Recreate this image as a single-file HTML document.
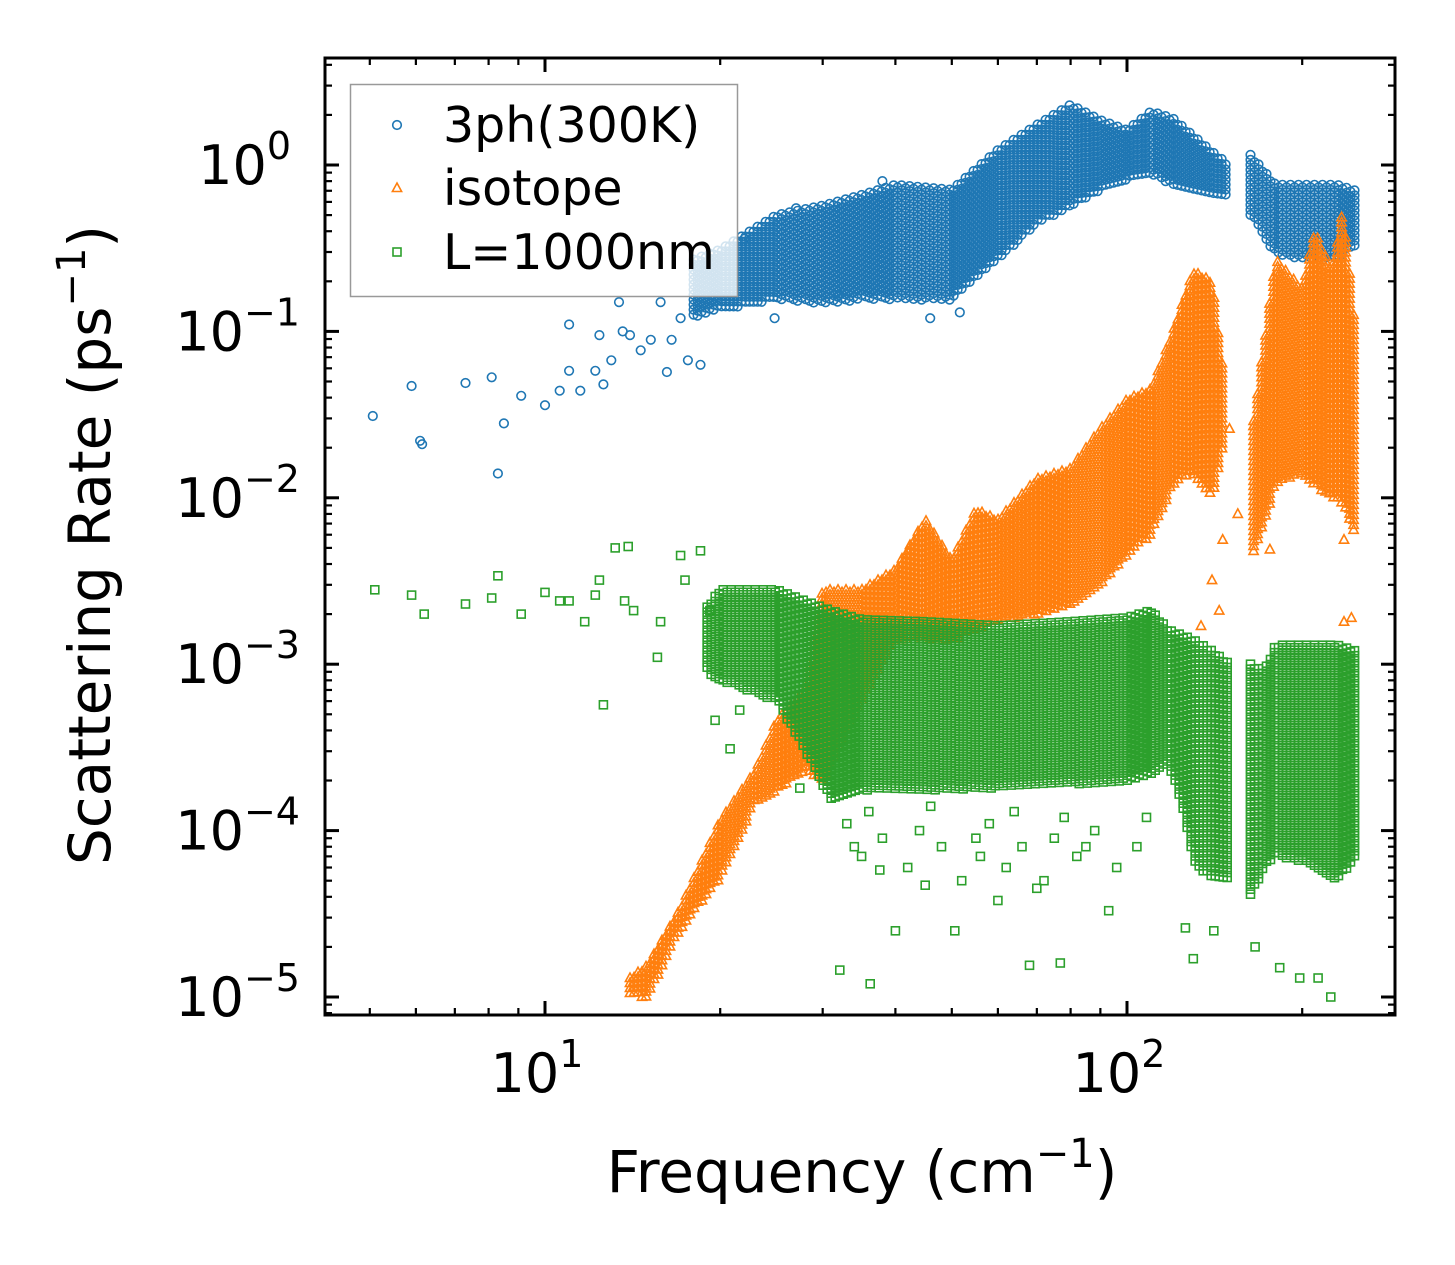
<!DOCTYPE html>
<html><head><meta charset="utf-8"><style>
html,body{margin:0;padding:0;background:#fff;}
svg{display:block;font-family:"DejaVu Sans","Liberation Sans",sans-serif;}
</style></head><body>
<svg id="chart" width="1455" height="1265" viewBox="0 0 1455 1265">
<rect x="0" y="0" width="1455" height="1265" fill="#fff"/>
<g id="marks"></g>
<g id="axes"></g>
</svg>
<script>
// ---- data (frequency in cm^-1, rate in ps^-1) ----
const blueBandF  = [18,20,25,30,35,40,50,60,70,80,90,100,110,120,140,150];
const blueBandLo = [0.12,0.135,0.155,0.145,0.155,0.155,0.155,0.27,0.44,0.57,0.71,0.81,0.87,0.76,0.66,0.62];
const blueBandHi = [0.27,0.31,0.5,0.57,0.66,0.76,0.71,1.23,1.74,2.3,1.86,1.62,2.1,1.9,1.2,1.0];
const blueBand2F  = [163,180,200,230,247];
const blueBand2Lo = [0.5,0.29,0.27,0.27,0.33];
const blueBand2Hi = [1.15,0.76,0.76,0.76,0.7];
const blueF = [5.06,5.9,6.1,6.15,7.3,8.1,8.3,8.5,9.1,10,10.6,11,11.5,12.2,12.6,13,13.6,11,12.4,14,14.6,15.2,16.2,16.5,17.6,18.5,13.4,15.8,17.1,24.8,45.9,51.6,32,22,27,38];
const blueV = [0.031,0.047,0.022,0.021,0.049,0.053,0.014,0.028,0.041,0.036,0.044,0.058,0.044,0.058,0.048,0.067,0.10,0.11,0.095,0.095,0.077,0.089,0.057,0.089,0.067,0.063,0.15,0.15,0.12,0.12,0.12,0.13,0.165,0.36,0.55,0.8];
const isoBandF  = [14,15,17,20,23,25,28,30,35,40,45,50,55,60,70,80,90,100,110,120,130,140,146];
const isoBandLo = [1e-5,1e-5,2.5e-5,5.2e-5,1.5e-4,1.75e-4,2.3e-4,2e-4,6e-4,1.4e-3,1.4e-3,1.4e-3,1.6e-3,1.8e-3,2e-3,2.3e-3,3e-3,4.5e-3,6e-3,0.012,0.014,0.01,0.02];
const isoBandHi = [1.3e-5,1.55e-5,3.3e-5,1.15e-4,2.3e-4,4.6e-4,6.9e-4,2.8e-3,2.8e-3,3.7e-3,7.4e-3,4.2e-3,8.5e-3,7.4e-3,0.013,0.015,0.026,0.039,0.045,0.1,0.23,0.2,0.06];
const isoBand2F  = [165,180,200,210,225,235,247];
const isoBand2Lo = [4.5e-3,0.012,0.014,0.012,0.01,0.009,0.006];
const isoBand2Hi = [0.029,0.27,0.18,0.4,0.23,0.54,0.1];
const isoF = [146,176,140,144,134,236,236,165,42,150,155,243];
const isoV = [5.6e-3,4.9e-3,3.2e-3,2.1e-3,1.7e-3,1.8e-3,5.6e-3,0.027,4.8e-3,2.6e-2,8e-3,1.9e-3];
const grnBandF  = [19,20,25,28,31,35,45,60,80,100,110,118,124,130,140,150];
const grnBandLo = [9e-4,8e-4,6e-4,3e-4,1.5e-4,1.75e-4,1.75e-4,1.8e-4,1.9e-4,2e-4,2.2e-4,2.5e-4,1.5e-4,6.6e-5,5e-5,5e-5];
const grnBandHi = [2.2e-3,2.8e-3,2.8e-3,2.4e-3,2.1e-3,1.85e-3,1.8e-3,1.7e-3,1.8e-3,1.9e-3,2.1e-3,1.6e-3,1.5e-3,1.4e-3,1.2e-3,1e-3];
const grnBand2F  = [163,172,180,200,230,247];
const grnBand2Lo = [4e-5,6e-5,7e-5,6.5e-5,5e-5,7e-5];
const grnBand2Hi = [1e-3,9e-4,1.3e-3,1.3e-3,1.3e-3,1.2e-3];
const grnF = [5.1,5.9,6.2,7.3,8.1,8.3,9.1,10,10.6,11,11.7,12.2,12.4,12.6,13.2,13.9,13.7,14.2,15.6,15.8,17.1,18.5,17.4,19.2,19.6,20.8,21.6,27.4,32.1,36.2,40,50.6,68,76.8,93,60,70,45,37.6,126,130,141,166,183,198,224,213,34,55,85,
  33,35,38,42,44,48,52,56,58,62,66,72,75,82,88,96,104,108,36,46,64,78];
const grnV = [2.8e-3,2.6e-3,2.0e-3,2.3e-3,2.5e-3,3.4e-3,2.0e-3,2.7e-3,2.4e-3,2.4e-3,1.8e-3,2.6e-3,3.2e-3,5.7e-4,5e-3,5.1e-3,2.4e-3,2.1e-3,1.1e-3,1.8e-3,4.5e-3,4.8e-3,3.2e-3,2.1e-3,4.6e-4,3.1e-4,5.3e-4,1.8e-4,1.45e-5,1.2e-5,2.5e-5,2.5e-5,1.55e-5,1.6e-5,3.3e-5,3.8e-5,4.5e-5,4.7e-5,5.8e-5,2.6e-5,1.7e-5,2.5e-5,2e-5,1.5e-5,1.3e-5,1e-5,1.3e-5,8e-5,9e-5,8e-5,
  1.1e-4,7e-5,9e-5,6e-5,1e-4,8e-5,5e-5,7e-5,1.1e-4,6e-5,8e-5,5e-5,9e-5,7e-5,1e-4,6e-5,8e-5,1.2e-4,1.3e-4,1.4e-4,1.3e-4,1.2e-4];
const xTickVals = [10,100];
const yTickExps = [0,-1,-2,-3,-4,-5];

const X0=325,X1=1395,Y0=58,Y1=1015;
const DEC_X=582, DEC_Y=166.4;
function xs(f){return 545+DEC_X*Math.log10(f/10);}
function ys(v){return 165-DEC_Y*Math.log10(v);}
const NS="http://www.w3.org/2000/svg";
const marks=document.getElementById('marks');
const axes=document.getElementById('axes');
function mk(tag,attrs,parent){const e=document.createElementNS(NS,tag);for(const k in attrs)e.setAttribute(k,attrs[k]);parent.appendChild(e);return e;}

const C={blue:'#1f77b4',orange:'#ff7f0e',green:'#2ca02c'};
function marker(kind,px,py,g,color){
  let e;
  if(kind==='o'){e=mk('circle',{cx:px.toFixed(1),cy:py.toFixed(1),r:4.3,fill:'none',stroke:color,'stroke-width':1.6},g);}
  else if(kind==='^'){e=mk('path',{d:`M${px.toFixed(1)},${(py-5).toFixed(1)}L${(px+4.6).toFixed(1)},${(py+3.5).toFixed(1)}L${(px-4.6).toFixed(1)},${(py+3.5).toFixed(1)}Z`,fill:'none',stroke:color,'stroke-width':1.6},g);}
  else {e=mk('rect',{x:(px-4).toFixed(1),y:(py-4).toFixed(1),width:8,height:8,fill:'none',stroke:color,'stroke-width':1.6},g);}
  return e;
}
function interp(fArr,arr,px){
  for(let i=0;i<fArr.length-1;i++){
    const a=xs(fArr[i]),b=xs(fArr[i+1]);
    if(px>=a&&px<=b){const t=(px-a)/(b-a);return Math.log10(arr[i])*(1-t)+Math.log10(arr[i+1])*t;}
  }
  return null;
}
function drawBand(fArr,lo,hi,kind,color,g){
  const a=xs(fArr[0]),b=xs(fArr[fArr.length-1]);
  let col=0;
  for(let px=a;px<=b;px+=4,col++){
    const l=interp(fArr,lo,px),h=interp(fArr,hi,px);
    if(l===null)continue;
    const yt=ys(Math.pow(10,h)),yb=ys(Math.pow(10,l));
    for(let py=yt+(col%2)*2.5;py<=yb;py+=5){
      const m=marker(kind,px,py,g,color);
      
      
    }
  }
}
function drawPts(F,V,kind,color,g){
  for(let i=0;i<F.length;i++){
    const m=marker(kind,xs(F[i]),ys(V[i]),g,color);
    
    
  }
}
const clip=mk('clipPath',{id:'pc'},marks);mk('rect',{x:X0,y:Y0,width:X1-X0,height:Y1-Y0},clip);
const gB=mk('g',{'clip-path':'url(#pc)'},marks);


const gO=mk('g',{'clip-path':'url(#pc)'},marks);


const gG=mk('g',{'clip-path':'url(#pc)'},marks);


drawPts(blueF,blueV,'o',C.blue,gB);
drawBand(blueBandF,blueBandLo,blueBandHi,'o',C.blue,gB);
drawBand(blueBand2F,blueBand2Lo,blueBand2Hi,'o',C.blue,gB);
drawBand(isoBandF,isoBandLo,isoBandHi,'^',C.orange,gO);
drawBand(isoBand2F,isoBand2Lo,isoBand2Hi,'^',C.orange,gO);
drawPts(isoF,isoV,'^',C.orange,gO);
drawPts(grnF,grnV,'s',C.green,gG);
drawBand(grnBandF,grnBandLo,grnBandHi,'s',C.green,gG);
drawBand(grnBand2F,grnBand2Lo,grnBand2Hi,'s',C.green,gG);

const ticks=mk('g',{stroke:'#000'},axes);


for(let d=0;d<3;d++){for(let k=1;k<10;k++){
  const f=k*Math.pow(10,d);const px=xs(f);if(px<X0||px>X1)continue;
  const L=(k===1)?14:7,w=(k===1)?3:2.2;
  mk('line',{x1:px,x2:px,y1:Y1,y2:Y1-L,'stroke-width':w},ticks);
  mk('line',{x1:px,x2:px,y1:Y0,y2:Y0+L,'stroke-width':w},ticks);
}}
for(let e=-6;e<=1;e++){for(let k=1;k<10;k++){
  const v=k*Math.pow(10,e);const py=ys(v);if(py<Y0||py>Y1)continue;
  const L=(k===1)?14:7,w=(k===1)?3:2.2;
  mk('line',{x1:X0,x2:X0+L,y1:py,y2:py,'stroke-width':w},ticks);
  mk('line',{x1:X1,x2:X1-L,y1:py,y2:py,'stroke-width':w},ticks);
}}
const frame=mk('rect',{x:X0,y:Y0,width:X1-X0,height:Y1-Y0,fill:'none',stroke:'#000','stroke-width':3},axes);


xTickVals.forEach(v=>{
  const t=mk('text',{x:xs(v)-8,y:1092,'font-size':54,'text-anchor':'middle',fill:'#000'},axes);
  
  
  t.textContent='10';
  const s=mk('tspan',{'font-size':38,dy:-25},t);s.textContent=String(Math.round(Math.log10(v)));
});
yTickExps.forEach(e=>{
  const t=mk('text',{x:e===0?291:300,y:ys(Math.pow(10,e))+19,'font-size':54,'text-anchor':'end',fill:'#000'},axes);
  
  
  const b=mk('tspan',{},t);b.textContent='10';
  const s=mk('tspan',{'font-size':38,dy:-25},t);s.textContent=e===0?'0':'\u2212'+(-e);
});
</script>
<svg style="position:absolute;left:0;top:0" width="1455" height="1265">
<g font-family="DejaVu Sans, Liberation Sans, sans-serif" fill="#000">
<text x="862" y="1192" font-size="58" text-anchor="middle">Frequency (cm<tspan font-size="40" dy="-25">−1</tspan><tspan dy="25">)</tspan></text>
<text transform="translate(110,545) rotate(-90)" font-size="58" text-anchor="middle">Scattering Rate (ps<tspan font-size="40" dy="-25">−1</tspan><tspan dy="25">)</tspan></text>
</g>
<g>
<rect x="350.5" y="84.5" width="387" height="212" fill="#fff" fill-opacity="0.8" stroke="#999" stroke-width="1.5"/>
<circle cx="397" cy="125" r="4.3" fill="none" stroke="#1f77b4" stroke-width="1.6"/>
<path d="M397,183 L401.6,191.5 L392.4,191.5 Z" fill="none" stroke="#ff7f0e" stroke-width="1.6"/>
<rect x="393" y="248" width="8" height="8" fill="none" stroke="#2ca02c" stroke-width="1.6"/>
<text x="443" y="142" font-size="49" font-family="DejaVu Sans, Liberation Sans, sans-serif">3ph(300K)</text>
<text x="443" y="205" font-size="49" font-family="DejaVu Sans, Liberation Sans, sans-serif">isotope</text>
<text x="443" y="269" font-size="49" font-family="DejaVu Sans, Liberation Sans, sans-serif">L=1000nm</text>
</g>
</svg>
</body></html>
